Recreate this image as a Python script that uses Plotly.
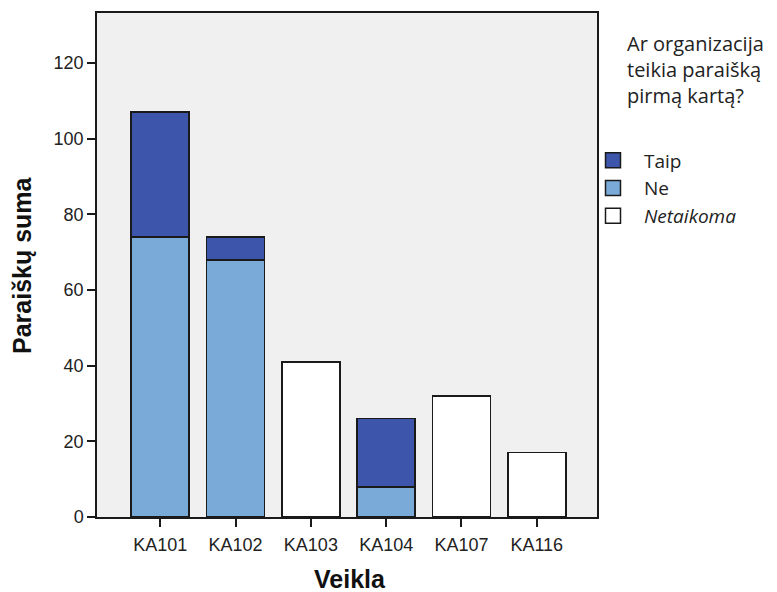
import plotly.graph_objects as go

categories = ["KA101", "KA102", "KA103", "KA104", "KA107", "KA116"]
ne_values = [74, 68, None, 8, None, None]
taip_values = [33, 6, None, 18, None, None]
netaikoma_values = [None, None, 41, None, 32, 17]
y_ticks = [0, 20, 40, 60, 80, 100, 120]
legend_title = "Ar organizacija<br>teikia paraišką<br>pirmą kartą?"
x_title = "<b>Veikla</b>"
y_title = "<b>Paraiškų suma</b>"

series = [
    ("Ne", ne_values, "#7aaad8", 2),
    ("Taip", taip_values, "#3d56ab", 1),
    ("<i>Netaikoma</i>", netaikoma_values, "#ffffff", 3),
]

line = dict(color="#1a1a1a", width=1.6)
fig = go.Figure()
for name, vals, color, rank in series:
    fig.add_trace(go.Bar(x=categories, y=vals, name=name, showlegend=False,
                         marker=dict(color=color, line=line), width=0.77))
for name, vals, color, rank in sorted(series, key=lambda s: s[3]):
    fig.add_trace(go.Scatter(x=[None], y=[None], mode="markers", name=name,
                             legendrank=rank,
                             marker=dict(symbol="square", size=15, color=color,
                                         line=dict(color="#1a1a1a", width=1.5))))

fig.add_annotation(text=legend_title, xref="paper", yref="paper", x=1.055, y=0.97,
                   xanchor="left", yanchor="top", align="left", showarrow=False,
                   font=dict(family="Open Sans", size=20, color="#222"))
fig.add_annotation(text=x_title, xref="paper", yref="paper", x=0.505, y=-0.123,
                   xanchor="center", yanchor="middle", showarrow=False,
                   font=dict(family="Liberation Sans, Arial", size=25, color="#111"))
fig.add_annotation(text=y_title, xref="paper", yref="paper", x=-0.15, y=0.5,
                   xanchor="center", yanchor="middle", showarrow=False, textangle=-90,
                   font=dict(family="Liberation Sans, Arial", size=25, color="#111"))

fig.update_layout(
    barmode="stack",
    width=769, height=584,
    margin=dict(l=89, r=180, t=5, b=75, autoexpand=False),
    paper_bgcolor="white",
    plot_bgcolor="#f0f0f0",
    font=dict(family="Liberation Sans, Arial", color="#222"),
    showlegend=True,
    legend=dict(
        x=0.97, y=0.745, xanchor="left", yanchor="top",
        traceorder="normal",
        font=dict(family="Open Sans", size=19, color="#222"),
        itemwidth=52, tracegroupgap=0, bgcolor="rgba(0,0,0,0)",
    ),
    xaxis=dict(
        range=[-0.84, 5.8], showline=True, linecolor="#1a1a1a", linewidth=1.5, mirror=True,
        ticks="outside", ticklen=8, tickcolor="#1a1a1a", tickwidth=1.5,
        tickfont=dict(size=18, color="#222"), ticklabelstandoff=3,
        showgrid=False, automargin=False,
    ),
    yaxis=dict(
        range=[0, 133.2], showline=True, linecolor="#1a1a1a", linewidth=1.5, mirror=True,
        ticks="outside", ticklen=8, tickcolor="#1a1a1a", tickwidth=1.5,
        tickvals=y_ticks, tickfont=dict(size=18, color="#222"),
        showgrid=False, zeroline=False, automargin=False,
    ),
)
fig.write_html("out.html")
